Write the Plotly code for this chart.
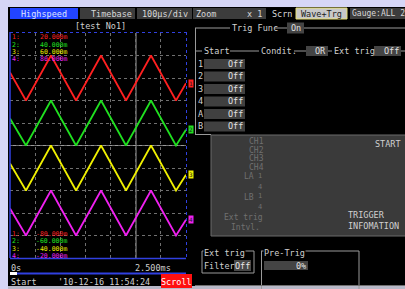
import plotly.graph_objects as go

# ---------------- data ----------------
# time vertices (ms) of the triangle waves
t_ms = [0.0, 0.227, 0.582, 0.938, 1.293, 1.648, 2.003, 2.358, 2.5]
ch1_mv = [2.5, -10.0, 10.0, -10.0, 10.0, -10.0, 10.0, -10.0, -2.3]
ch2_mv = [2.0, -10.0, 10.0, -10.0, 10.0, -10.0, 10.0, -10.0, -3.0]
ch3_mv = [2.0, -10.0, 10.0, -10.0, 10.0, -10.0, 10.0, -10.0, -3.0]
ch4_mv = [2.0, -10.0, 10.0, -10.0, 10.0, -10.0, 10.0, -10.0, -3.0]
channels = ["1", "2", "3", "4"]
ch_min = [-80, -60, -40, -20]
ch_max = [20, 40, 60, 80]
top_labels = ["20.000m", "40.000m", "60.000m", "80.000m"]
bot_labels = ["-80.000m", "-60.000m", "-40.000m", "-20.000m"]
colors = ["#ff2020", "#20e020", "#f0f000", "#f020f0"]
time_range = [0.0, 2.5]
time_labels = ["0s", "2.500ms"]
cursor_ms = 1.79
series = [ch1_mv, ch2_mv, ch3_mv, ch4_mv]

W, H = 405, 289
MONO = "DejaVu Sans Mono"


def px(x):
    return x / W


def py(y):
    return 1 - y / H


shapes = []
annos = []


def rect(x0, y0, x1, y1, fill, line=None, lw=1):
    shapes.append(dict(type="rect", xref="paper", yref="paper",
                       x0=px(x0), x1=px(x1), y0=py(y1), y1=py(y0),
                       fillcolor=fill,
                       line=dict(color=line if line else fill, width=lw if line else 0)))


def hline(x0, x1, y, color="#9a9a9a", w=1, dash="solid"):
    shapes.append(dict(type="line", xref="paper", yref="paper",
                       x0=px(x0), x1=px(x1), y0=py(y), y1=py(y),
                       line=dict(color=color, width=w, dash=dash)))


def vline(x, y0, y1, color="#9a9a9a", w=1, dash="solid"):
    shapes.append(dict(type="line", xref="paper", yref="paper",
                       x0=px(x), x1=px(x), y0=py(y0), y1=py(y1),
                       line=dict(color=color, width=w, dash=dash)))


def text(x, y, s, color="#d0d0d0", size=8, anchor="left", bg=None):
    d = dict(x=px(x), y=py(y), xref="paper", yref="paper", text=s,
             showarrow=False, xanchor=anchor, yanchor="middle",
             font=dict(family=MONO, size=size, color=color), borderpad=0)
    if bg:
        d["bgcolor"] = bg
    annos.append(d)


fig = go.Figure()
axes = ["y", "y2", "y3", "y4"]
for i in range(4):
    fig.add_trace(go.Scatter(x=t_ms, y=series[i], yaxis=axes[i], mode="lines",
                             line=dict(color=colors[i], width=1.8),
                             hoverinfo="skip", showlegend=False))

# ---------------- background / chrome ----------------
LAV = "#d6d6f6"
rect(0, 0, 405, 7, LAV)
rect(0, 0, 8, 289, LAV)
rect(8, 286, 405, 289, "#b8b8c8")

DG = "#3c3c3c"
rect(10, 8, 78, 19, "#2244ff")
text(44, 13.5, "Highspeed", "#dfe4ff", 8.5, "center")
rect(80, 8, 135, 19, DG)
text(112, 13.5, "Timebase", "#d8d8d8", 8.5, "center")
rect(137, 8, 192, 19, DG)
text(164.5, 13.5, "100µs/div", "#d8d8d8", 8.5, "center")
rect(193, 8, 266, 19, DG)
text(195, 13.5, "Zoom", "#d8d8d8", 8.5, "left")
text(263, 13.5, "x 1", "#d8d8d8", 8.5, "right")
text(271, 13.5, "Scrn", "#d8d8d8", 8.5, "left")
rect(296, 8, 347, 19, "#c8c8c8", "#e8e070", 1)
text(321.5, 13.5, "Wave+Trg", "#202020", 8.5, "center")
rect(350, 8, 406, 19, DG)
text(351, 13.5, "Gauge:ALL 2", "#d8d8d8", 8, "left")

text(100, 25.5, "[test No1]", "#d0d0d0", 8.5, "center")

# plot frame
BL = "#3040e0"
vline(10, 32, 258, BL, 1.5)
hline(10, 186, 32.5, BL, 1, "dot")
hline(10, 186, 258.5, BL, 1.5)
vline(186.5, 32, 258, BL, 1, "dot")

# scale labels
for i in range(4):
    text(11, 37 + 7.5 * i, channels[i] + ":", colors[i], 6.5)
    text(39, 37 + 7.5 * i, top_labels[i], colors[i], 6.5)
    text(11, 233.5 + 7.5 * i, channels[i] + ":", colors[i], 6.5)
    text(35, 233.5 + 7.5 * i, bot_labels[i], colors[i], 6.5)
    annos.append(dict(x=px(190.5), y=series[i][-1], xref="paper", yref=axes[i],
                      text=channels[i], showarrow=False, xanchor="center",
                      yanchor="middle", bgcolor=colors[i], borderpad=0,
                      font=dict(family=MONO, size=6, color="#202020")))

text(10, 267.5, time_labels[0], "#d0d0d0", 8.5)
text(172, 267.5, time_labels[1], "#d0d0d0", 8.5, "right")
hline(10, 186, 273.5, BL, 2)
rect(10, 272, 17, 275, "#ffffff")

text(10, 281.5, "Start", "#d0d0d0", 8.5)
text(57, 281.5, "'10-12-16 11:54:24", "#d0d0d0", 8.5)
rect(161, 274, 192, 288, "#ff1010")
text(176.5, 281.5, "Scroll", "#ffffff", 8.5, "center")

# right panel
G = "#9a9a9a"
hline(195, 230, 28, G)
text(231, 28, "Trig Func", "#d0d0d0", 8.5)
hline(274, 287, 28, G)
rect(287, 22.5, 304, 33.5, "#444444")
text(295.5, 28, "On", "#e0e0e0", 8.5, "center")
hline(304, 405, 28, G)
vline(195.5, 28, 134, G)

hline(195, 202, 51, G)
text(202.5, 51, "Start", "#d0d0d0", 8.5)
hline(230, 259, 51, G)
text(259.5, 51, "Condit.", "#d0d0d0", 8.5)
hline(294, 306, 51, G)
rect(306, 46, 328, 56, "#444444")
text(327, 51, "OR", "#e0e0e0", 8.5, "right")
hline(328, 332, 51, G)
text(332.5, 51, "Ext trig", "#d0d0d0", 8.5)
rect(374, 46, 401, 56, "#444444")
text(400, 51, "Off", "#e0e0e0", 8.5, "right")
hline(401, 405, 51, G)

row_labels = ["1", "2", "3", "4", "A", "B"]
for k, lab in enumerate(row_labels):
    yy = 64 + 12.5 * k
    text(197, yy, lab, "#d0d0d0", 8.5)
    rect(204, yy - 5, 245, yy + 5, "#404040")
    text(244, yy, "Off", "#e0e0e0", 8.5, "right")
hline(195, 211, 134.5, G)

rect(211, 135, 408, 236, "#3a3a3a", "#6a6a6a", 1)
DIM = "#707070"
for k, lab in enumerate(["CH1", "CH2", "CH3", "CH4"]):
    text(248, 141.5 + 8.5 * k, lab, DIM, 8)
text(255, 177, "LA", DIM, 8, "right")
text(257, 176, "1", DIM, 7)
text(257, 187, "4", DIM, 7)
text(255, 197.5, "LB", DIM, 8, "right")
text(257, 196, "1", DIM, 7)
text(257, 207, "4", DIM, 7)
text(223, 217, "Ext trig", DIM, 8)
text(230, 227, "Intvl.", DIM, 8)
text(402, 144, "START", "#d0d0d0", 8.5, "right")
text(347, 215, "TRIGGER", "#d0d0d0", 8.5)
text(347, 225.5, "INFOMATION", "#d0d0d0", 8.5)

# ext trig filter box
rect(202, 251, 254, 273, "rgba(0,0,0,0)", G, 1)
text(203, 252.5, "Ext trig", "#d0d0d0", 8.5, bg="#000000")
text(203, 265.5, "Filter", "#d0d0d0", 8.5)
rect(234, 260, 251, 271, "#484848")
text(242.5, 265.5, "Off", "#e8e8e8", 8.5, "center")
# pre-trig box
vline(261.5, 251, 289, G)
hline(261, 359, 251, G)
vline(359, 251, 289, G)
text(262.5, 252.5, "Pre-Trig", "#d0d0d0", 8.5, bg="#000000")
rect(264, 261, 308, 270, "#444444")
text(307, 265.5, "0%", "#e0e0e0", 8.5, "right")
hline(195, 405, 285.5, "#707070")

# cursor and center line (data coordinates)
shapes.append(dict(type="line", xref="x", yref="y", x0=cursor_ms, x1=cursor_ms,
                   y0=ch_min[0], y1=ch_max[0], line=dict(color="#9a9a9a", width=1),
                   layer="below"))
mid = (ch_min[0] + ch_max[0]) / 2
shapes.append(dict(type="line", xref="x", yref="y", x0=time_range[0], x1=time_range[1],
                   y0=mid, y1=mid, line=dict(color="#9a9a9a", width=1), layer="below"))

dx = (time_range[1] - time_range[0]) * 25 / 176
grid = dict(showgrid=True, gridcolor="#707070", griddash="dot", gridwidth=1,
            showticklabels=False, zeroline=False, showline=False, ticks="")
fig.update_layout(
    width=W, height=H, margin=dict(l=0, r=0, t=0, b=0),
    paper_bgcolor="#000000", plot_bgcolor="#000000",
    xaxis=dict(domain=[10 / W, 186 / W], range=time_range, dtick=dx, tick0=dx, **grid),
    yaxis=dict(domain=[1 - 258 / H, 1 - 33 / H], range=[ch_min[0], ch_max[0]], dtick=10, **grid),
    yaxis2=dict(overlaying="y", range=[ch_min[1], ch_max[1]], visible=False),
    yaxis3=dict(overlaying="y", range=[ch_min[2], ch_max[2]], visible=False),
    yaxis4=dict(overlaying="y", range=[ch_min[3], ch_max[3]], visible=False),
    shapes=shapes, annotations=annos, showlegend=False,
)
fig.write_html("out.html", config={"displayModeBar": False},
               post_script="document.body.style.margin='0';document.body.style.overflow='hidden';")
